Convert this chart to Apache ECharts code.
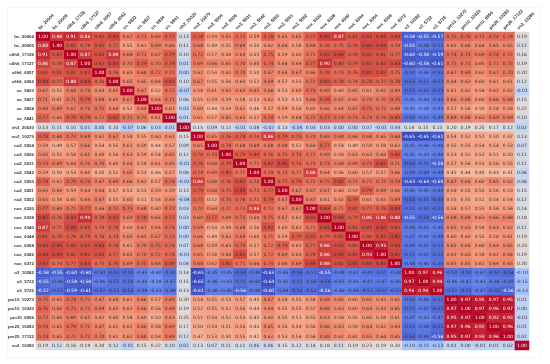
<!DOCTYPE html>
<html><head><meta charset="utf-8">
<style>html,body{margin:0;padding:0;background:#fff}#c{width:550px;height:364px}</style>
<script src="https://cdn.jsdelivr.net/npm/echarts@6/dist/echarts.min.js"></script>
</head><body><div id="c"></div>
<script>
const names = ["bc_20004","bc_20005","c6h6_17126","c6h6_17127","c6h6_6057","c6h6_6062","co_5823","co_5827","co_5834","co_5841","nh3_20020","no2_10279","no2_5504","no2_5506","no2_5531","no2_5542","no2_5550","no2_5551","no2_5552","nox_6320","nox_6328","nox_6340","nox_6344","nox_6354","nox_6366","nox_6372","o3_10282","o3_5722","o3_5725","pm10_10273","pm10_10320","pm10_6956","pm25_10283","pm25_17122","so2_10280"];
// upper triangle, each row starts at its diagonal cell
const r00=[1,.88,.91,.86,.81,.84,.67,.71,.68,.77,.13,.78,.59,.65,.73,.59,.78,.65,.65,.77,.85,.87,.81,.83,.84,.83,-.58,-.55,-.57,.75,.76,.72,.74,.74,.19];
const r01=[1,.82,.78,.81,.77,.55,.61,.69,.66,.11,.68,.49,.55,.69,.50,.62,.64,.58,.68,.76,.75,.78,.84,.84,.74,-.55,-.48,-.51,.65,.66,.64,.65,.65,.12];
const r02=[1,.87,.82,.88,.68,.71,.67,.79,.10,.72,.57,.58,.64,.53,.75,.59,.60,.71,.83,.84,.78,.82,.81,.77,-.60,-.58,-.59,.74,.73,.69,.74,.72,.16];
const r03=[1,.82,.84,.70,.79,.70,.79,.01,.69,.66,.65,.70,.60,.74,.64,.64,.77,.90,.80,.79,.82,.82,.83,-.60,-.58,-.61,.72,.71,.65,.71,.72,.19];
const r04=[1,.76,.63,.68,.72,.72,.00,.62,.54,.60,.70,.50,.67,.64,.67,.66,.78,.74,.76,.83,.82,.75,-.50,-.46,-.52,.67,.69,.62,.67,.70,.20];
const r05=[1,.65,.65,.64,.82,.10,.67,.55,.56,.60,.52,.69,.57,.55,.72,.82,.78,.74,.78,.77,.78,-.53,-.51,-.52,.64,.63,.60,.61,.61,.12];
const r06=[1,.67,.52,.72,-.07,.58,.61,.63,.64,.65,.66,.53,.60,.73,.69,.60,.65,.61,.65,.69,-.53,-.50,-.53,.61,.62,.58,.62,.62,-.01];
const r07=[1,.64,.71,.06,.55,.59,.59,.58,.53,.62,.53,.51,.68,.78,.67,.65,.70,.70,.75,-.45,-.44,-.48,.66,.66,.60,.66,.68,.15];
const r08=[1,.61,.03,.60,.44,.54,.61,.46,.57,.59,.56,.60,.66,.64,.67,.75,.72,.68,-.40,-.38,-.43,.57,.56,.50,.58,.58,.22];
const r09=[1,.01,.61,.57,.65,.65,.57,.74,.59,.64,.72,.77,.74,.73,.74,.74,.80,-.50,-.47,-.49,.69,.68,.63,.69,.69,.10];
const r10=[1,.15,.09,.12,-.01,.08,-.02,.13,-.04,.03,.03,.00,.00,.07,-.01,.04,.14,.15,.13,.20,.19,.25,.17,.12,.02];
const r11=[1,.65,.76,.78,.74,.86,.79,.75,.70,.69,.69,.66,.68,.65,.68,-.65,-.65,-.61,.54,.52,.51,.50,.47,.13];
const r12=[1,.74,.68,.69,.68,.68,.52,.64,.77,.54,.49,.59,.58,.62,-.45,-.46,-.46,.55,.55,.54,.54,.53,.07];
const r13=[1,.79,.80,.76,.75,.74,.72,.69,.58,.63,.63,.64,.80,-.45,-.43,-.46,.53,.52,.52,.51,.50,.11];
const r14=[1,.71,.82,.85,.76,.73,.73,.68,.69,.75,.83,.71,-.54,-.51,-.56,.57,.56,.53,.56,.55,.11];
const r15=[1,.74,.73,.71,.86,.64,.56,.60,.57,.57,.66,-.49,-.49,-.48,.45,.44,.45,.43,.41,.06];
const r16=[1,.77,.79,.72,.75,.82,.71,.72,.72,.74,-.63,-.64,-.60,.67,.64,.60,.65,.62,.06];
const r17=[1,.67,.67,.67,.60,.59,.79,.69,.66,-.46,-.45,-.49,.58,.55,.55,.56,.53,.15];
const r18=[1,.67,.61,.62,.79,.61,.63,.69,-.54,-.51,-.54,.55,.55,.51,.54,.54,.12];
const r19=[1,.83,.71,.81,.77,.78,.84,-.51,-.50,-.52,.58,.57,.55,.56,.56,.14];
const r20=[1,.84,.79,.86,.86,.88,-.55,-.54,-.56,.68,.68,.63,.66,.68,.18];
const r21=[1,.81,.83,.85,.82,-.48,-.47,-.46,.65,.63,.58,.63,.62,.11];
const r22=[1,.80,.83,.85,-.47,-.45,-.48,.60,.60,.55,.58,.61,.19];
const r23=[1,.93,.84,-.49,-.47,-.51,.65,.64,.60,.64,.65,.23];
const r24=[1,.85,-.51,-.47,-.52,.63,.63,.58,.62,.64,.19];
const r25=[1,-.48,-.46,-.50,.65,.65,.61,.64,.65,.20];
const r26=[1,.97,.96,-.50,-.52,-.47,-.52,-.54,-.10];
const r27=[1,.94,-.46,-.47,-.43,-.48,-.49,-.15];
const r28=[1,-.51,-.53,-.47,-.53,-.56,-.13];
const r29=[1,.97,.95,.97,.95,.01];
const r30=[1,.97,.96,.97,.00];
const r31=[1,.92,.93,-.01];
const r32=[1,.96,.01];
const r33=[1,.02];
const r34=[1];
const rows=[r00,r01,r02,r03,r04,r05,r06,r07,r08,r09,r10,r11,r12,r13,r14,r15,r16,r17,r18,r19,r20,r21,r22,r23,r24,r25,r26,r27,r28,r29,r30,r31,r32,r33,r34];
const coolwarm=["#3b4cc0","#6282ea","#8db0fe","#b8d0f9","#dddcdc","#f5c4ac","#f4987a","#dc5d4a","#b40426"];

const cells=[];
rows.forEach((row,i)=>row.forEach((v,k)=>{
  const j=i+k;
  const item=(a,b)=>({value:[a,b,v],label:{color:(v>=.86||v<=-.55)?"#ffffff":"#333333"}});
  cells.push(item(j,i));
  if(j!==i)cells.push(item(i,j));
}));

const chart=echarts.init(document.getElementById('c'),null,{renderer:'canvas'});
const hidden={axisLine:{show:false},axisTick:{show:false},splitLine:{show:false},splitArea:{show:false}};
chart.setOption({
  animation:false,
  backgroundColor:'#ffffff',
  graphic:[{type:'rect',silent:true,z:-1,shape:{x:7.5,y:7.5,width:533,height:350},style:{fill:'none',stroke:'#f6f6f6',lineWidth:1}}],
  // grid 0 holds the cells; grid 1 only carries the slanted column labels, nudged left of the columns
  grid:[{left:36,top:32,width:493,height:318},{left:32,top:32,width:493,height:318}],
  xAxis:[
    {type:'category',gridIndex:0,position:'top',data:names,...hidden,axisLabel:{show:false}},
    {type:'category',gridIndex:1,position:'top',data:names,...hidden,
     axisLabel:{interval:0,rotate:-45,margin:3,fontSize:4.4,fontFamily:'Liberation Sans',fontWeight:'bold',color:'#333333',align:'left',verticalAlign:'middle'}}
  ],
  yAxis:[
    {type:'category',gridIndex:0,inverse:true,data:names,...hidden,
     axisLabel:{interval:0,margin:2,fontSize:4.4,fontFamily:'Liberation Sans',fontWeight:'bold',color:'#333333'}},
    {type:'category',gridIndex:1,inverse:true,data:names,...hidden,axisLabel:{show:false}}
  ],
  visualMap:{show:false,type:'continuous',min:-.65,max:1,dimension:2,seriesIndex:0,inRange:{color:coolwarm}},
  series:[{type:'heatmap',xAxisIndex:0,yAxisIndex:0,data:cells,progressive:0,
    label:{show:true,fontSize:4.5,fontFamily:'DejaVu Sans',formatter:p=>p.value[2].toFixed(2)},
    emphasis:{disabled:true}}]
});
</script></body></html>
